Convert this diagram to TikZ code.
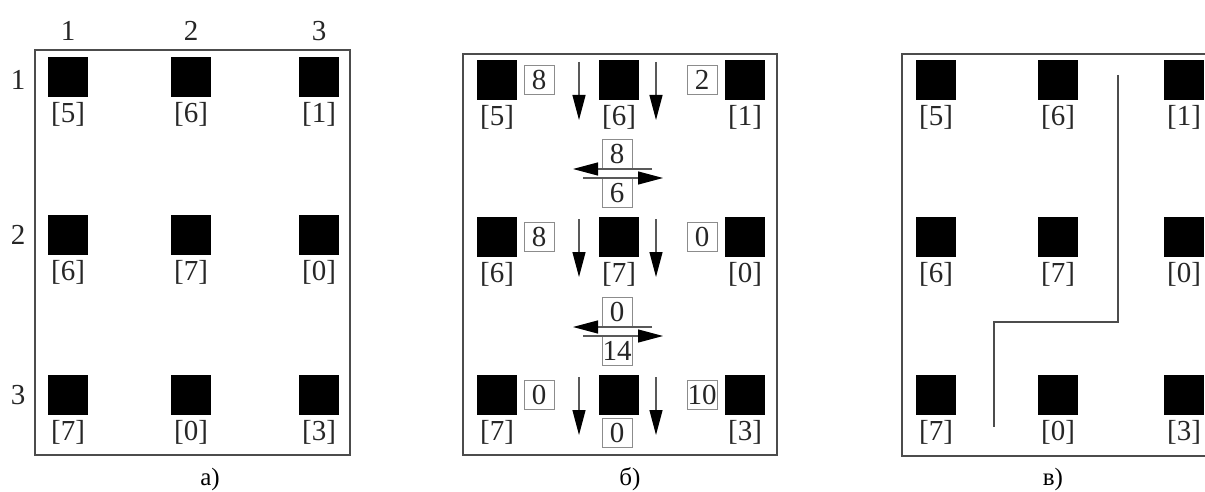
\documentclass[tikz,border=0pt]{standalone}
\usepackage{fontspec}
\setmainfont{Liberation Serif}
\usetikzlibrary{arrows.meta}
\begin{document}
\begin{tikzpicture}[x=1pt,y=-1pt,
  sq/.style={fill=black,draw=none,minimum size=40pt,inner sep=0pt},
  lbl/.style={font=\fontsize{29}{29}\selectfont,inner sep=0pt,text=black!85},
  captxt/.style={font=\fontsize{25}{25}\selectfont,inner sep=0pt,text=black,anchor=base},
  vbox/.style={draw=black!45,line width=0.8pt,minimum width=30pt,minimum height=29pt,inner sep=0pt,font=\fontsize{29}{29}\selectfont,text=black!85},
  frm/.style={draw=black!70,line width=1.6pt},
  flow/.style={draw=black!65,line width=1.2pt,-{Triangle[length=25pt,width=13pt,color=black]}},
  wall/.style={draw=black!70,line width=1.4pt}]
\useasboundingbox (0,0) rectangle (1205,492);
\clip (0,0) rectangle (1205,492);
% ---------- panel a ----------
\draw[frm] (35,50) rectangle (350,455);
\foreach \c/\x in {1/68,2/191,3/319}{
  \node[lbl] (ha\c) at (\x,31) {\c};
  \foreach \r/\y in {1/77,2/235,3/395}
    \node[sq] (a\r\c) at (\x,\y) {};
}
\foreach \r/\y in {1/80,2/235,3/395}
  \node[lbl] (ra\r) at (18,\y) {\r};
\foreach \r/\c/\v in {1/1/5,1/2/6,1/3/1,2/1/6,2/2/7,2/3/0,3/1/7,3/2/0,3/3/3}
  \node[lbl,anchor=north] (la\r\c) at ([yshift=-5pt]a\r\c.south) {[\v]};
\node[captxt] (capa) at (210,485) {а)};
% ---------- panel b ----------
\draw[frm] (463,54) rectangle (777,455);
\foreach \c/\x in {1/497,2/619,3/745}
  \foreach \r/\y in {1/80,2/237,3/395}
    \node[sq] (b\r\c) at (\x,\y) {};
\foreach \r/\c/\v in {1/1/5,1/2/6,1/3/1,2/1/6,2/2/7,2/3/0,3/1/7,3/3/3}
  \node[lbl,anchor=north] (lb\r\c) at ([yshift=-5pt]b\r\c.south) {[\v]};
\node[vbox] (bz) at (617,433) {0};
\foreach \r/\y/\p/\q in {1/80/8/2,2/237/8/0,3/395/0/10}{
  \node[vbox] (bl\r) at (539,\y) {\p};
  \node[vbox] (br\r) at (702,\y) {\q};
  \coordinate (d\r a) at (579,\y-18);
  \coordinate (d\r b) at (579,\y+40);
  \coordinate (d\r c) at (656,\y-18);
  \coordinate (d\r d) at (656,\y+40);
  \draw[flow] (d\r a) -- (d\r b);
  \draw[flow] (d\r c) -- (d\r d);
}
% horizontal pair 1
\node[vbox,anchor=south] (bt1) at (617,169) {8};
\node[vbox,anchor=north] (bu1) at (617,178) {6};
\coordinate (h1a) at (652,169); \coordinate (h1b) at (573,169);
\coordinate (h1c) at (583,178); \coordinate (h1d) at (663,178);
\draw[flow] (h1a) -- (h1b);
\draw[flow] (h1c) -- (h1d);
% horizontal pair 2
\node[vbox,anchor=south] (bt2) at (617,327) {0};
\node[vbox,anchor=north] (bu2) at (617,336) {14};
\coordinate (h2a) at (652,327); \coordinate (h2b) at (573,327);
\coordinate (h2c) at (583,336); \coordinate (h2d) at (663,336);
\draw[flow] (h2a) -- (h2b);
\draw[flow] (h2c) -- (h2d);
\node[captxt] (capb) at (630,485) {б)};
% ---------- panel c ----------
\draw[frm] (902,54) rectangle (1218,456);
\foreach \c/\x in {1/936,2/1058,3/1184}
  \foreach \r/\y in {1/80,2/237,3/395}
    \node[sq] (c\r\c) at (\x,\y) {};
\foreach \r/\c/\v in {1/1/5,1/2/6,1/3/1,2/1/6,2/2/7,2/3/0,3/1/7,3/2/0,3/3/3}
  \node[lbl,anchor=north] (lc\r\c) at ([yshift=-5pt]c\r\c.south) {[\v]};
\coordinate (w1) at (1118,75);
\coordinate (w2) at (1118,322);
\coordinate (w3) at (994,322);
\coordinate (w4) at (994,427);
\draw[wall] (w1) -- (w2) -- (w3) -- (w4);
\node[captxt] (capc) at (1053,485) {в)};
\end{tikzpicture}
\end{document}
